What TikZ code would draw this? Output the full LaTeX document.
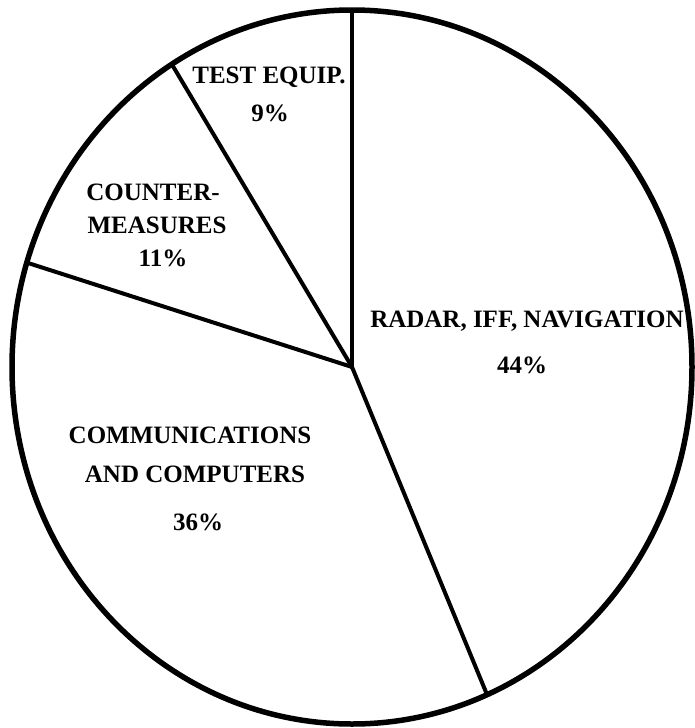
\documentclass[tikz,border=0pt]{standalone}
\usepackage{fontspec}
\setmainfont{Liberation Serif}
\begin{document}
\begin{tikzpicture}[x=1pt,y=-1pt,
  lab/.style={font=\fontsize{25}{29}\selectfont\bfseries, inner sep=0pt, anchor=base},
  rim/.style={line width=5.5pt},
  spoke/.style={line width=4pt, line cap=round}]
\fill[white] (0,0) rectangle (695,728);
\useasboundingbox (0,0) rectangle (695,728);
\coordinate (c) at (352,367);
\draw[rim] (c) ellipse [x radius=340, y radius=357];
\coordinate (top) at ([shift={(c)}]-90:340 and 357);
\coordinate (ul) at ([shift={(c)}]-122:340 and 357);
\coordinate (lf) at ([shift={(c)}]-163:340 and 357);
\coordinate (bt) at ([shift={(c)}]66.6:340 and 357);
\draw[spoke] (c) -- (top);
\draw[spoke] (c) -- (ul);
\draw[spoke] (c) -- (lf);
\draw[spoke] (c) -- (bt);
% labels
\node[lab] (te1) at (269,83) {TEST EQUIP.};
\node[lab] (te2) at (270,121) {9\%};
\node[lab] (cm1) at (153,200) {COUNTER-};
\node[lab] (cm2) at (157,233) {MEASURES};
\node[lab] (cm3) at (163,266) {11\%};
\node[lab] (rd1) at (527,327) {RADAR, IFF, NAVIGATION};
\node[lab] (rd2) at (522,373) {44\%};
\node[lab] (cc1) at (190,443) {COMMUNICATIONS};
\node[lab] (cc2) at (195,482) {AND COMPUTERS};
\node[lab] (cc3) at (198,530) {36\%};
\end{tikzpicture}
\end{document}
